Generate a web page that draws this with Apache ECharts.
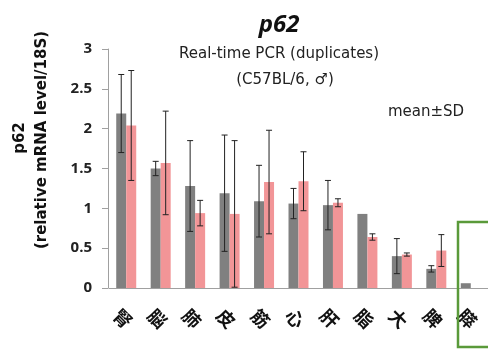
<!DOCTYPE html>
<html><head><meta charset="utf-8">
<script src="https://cdn.jsdelivr.net/npm/echarts@6/dist/echarts.min.js"></script>
<style>html,body{margin:0;padding:0;background:#fff}#c{width:488px;height:349px}</style>
</head><body><div id="c"></div>
<script>
const categories = ['腎','脳','肺','皮','筋','心','肝','脂','大','脾','膵'];
const grayMean = [2.19, 1.50, 1.28, 1.19, 1.09, 1.06, 1.04, 0.93, 0.40, 0.24, 0.06];
const graySD   = [0.49, 0.09, 0.57, 0.73, 0.45, 0.19, 0.31, 0.00, 0.22, 0.04, 0.00];
const pinkMean = [2.04, 1.57, 0.94, 0.93, 1.33, 1.34, 1.07, 0.64, 0.42, 0.47, 0.00];
const pinkSD   = [0.69, 0.65, 0.16, 0.92, 0.65, 0.37, 0.05, 0.04, 0.02, 0.20, 0.00];
const yTicks = [0, 0.5, 1, 1.5, 2, 2.5, 3];

const chart = echarts.init(document.getElementById('c'), null, {renderer: 'canvas'});

function errSeries(means, sds, offset) {
  return {
    type: 'custom',
    coordinateSystem: 'cartesian2d',
    data: means.map((m, i) => [i, m, sds[i]]),
    z: 10,
    renderItem: function (params, api) {
      const i = api.value(0), m = api.value(1), sd = api.value(2);
      if (!sd) return null;
      const hi = api.coord([i, m + sd]);
      const lo = api.coord([i, Math.max(0, m - sd)]);
      const x = hi[0] + offset;
      const cap = 3;
      const st = {stroke: '#222', lineWidth: 1};
      return {type: 'group', children: [
        {type: 'line', shape: {x1: x, y1: hi[1], x2: x, y2: lo[1]}, style: st},
        {type: 'line', shape: {x1: x - cap, y1: hi[1], x2: x + cap, y2: hi[1]}, style: st},
        {type: 'line', shape: {x1: x - cap, y1: lo[1], x2: x + cap, y2: lo[1]}, style: st}
      ]};
    }
  };
}

chart.setOption({
  animation: false,
  backgroundColor: '#fff',
  title: [
    {text: 'p62', left: 274, top: 8, textAlign: 'center',
     textStyle: {fontFamily: 'Open Sans', fontSize: 24, fontWeight: 'bold', fontStyle: 'italic', color: '#111'}},
    {text: 'Real-time PCR (duplicates)', left: 274, top: 42, textAlign: 'center',
     textStyle: {fontFamily: 'DejaVu Sans', fontSize: 15, fontWeight: 'normal', color: '#222'}},
    {text: '(C57BL/6, ♂)', left: 280, top: 68, textAlign: 'center',
     textStyle: {fontFamily: 'DejaVu Sans', fontSize: 15, fontWeight: 'normal', color: '#222'}},
    {text: 'mean±SD', left: 421, top: 100, textAlign: 'center',
     textStyle: {fontFamily: 'DejaVu Sans', fontSize: 15, fontWeight: 'normal', color: '#222'}}
  ],
  grid: {left: 109, right: -9, top: 49, bottom: 61, containLabel: false},
  xAxis: {
    type: 'category',
    data: categories,
    axisLine: {lineStyle: {color: '#a0a0a0', width: 1}},
    axisTick: {show: false},
    axisLabel: {
      interval: 0, rotate: -45, align: 'center', verticalAlign: 'middle',
      margin: 34, padding: [10, 10, 0, 0],
      fontFamily: 'Noto Sans CJK JP', fontWeight: 'bold', fontSize: 18, color: '#111'
    }
  },
  yAxis: {
    type: 'value', min: 0, max: 3, interval: 0.5, offset: 1,
    axisLine: {show: true, lineStyle: {color: '#a0a0a0'}},
    axisTick: {show: true, length: 6, lineStyle: {color: '#a0a0a0'}},
    splitLine: {show: false},
    axisLabel: {
      margin: 16, fontFamily: 'Open Sans', fontWeight: 'bold', fontSize: 15, color: '#222',
      formatter: v => (yTicks.indexOf(v) >= 0 ? String(v) : '')
    }
  },
  graphic: [
    {type: 'text', x: 20, y: 138, rotation: Math.PI / 2,
     style: {text: 'p62', fontFamily: 'DejaVu Sans', fontWeight: 'bold', fontSize: 15,
             fill: '#111', align: 'center', verticalAlign: 'middle'}},
    {type: 'text', x: 42, y: 140, rotation: Math.PI / 2,
     style: {text: '(relative mRNA level/18S)', fontFamily: 'DejaVu Sans', fontWeight: 'bold', fontSize: 15,
             fill: '#111', align: 'center', verticalAlign: 'middle'}},
    {type: 'rect', shape: {x: 458, y: 222, width: 40, height: 125},
     style: {fill: 'none', stroke: '#5a9a3a', lineWidth: 2.5}, z: 100}
  ],
  series: [
    {type: 'bar', data: grayMean, barWidth: 10, barGap: '0%',
     itemStyle: {color: '#808080'}},
    {type: 'bar', data: pinkMean, barWidth: 10, barGap: '0%',
     itemStyle: {color: '#f29597'}},
    errSeries(grayMean, graySD, -5),
    errSeries(pinkMean, pinkSD, 5)
  ]
});
</script></body></html>
